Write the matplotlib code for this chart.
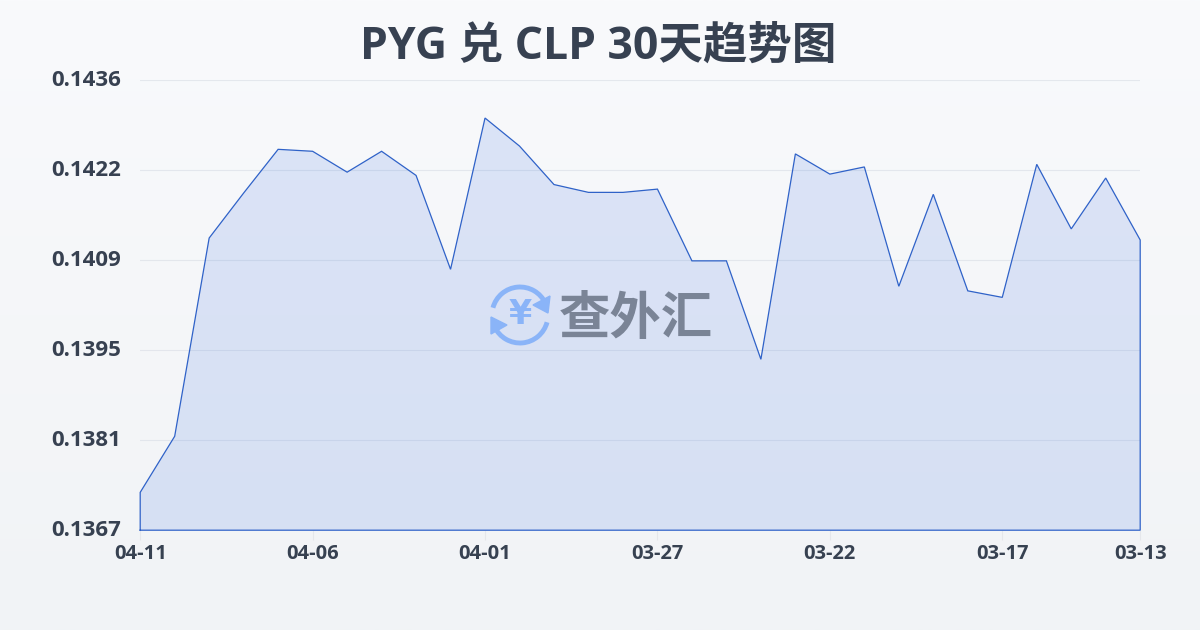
import matplotlib
matplotlib.use('Agg')
import matplotlib.pyplot as plt
import numpy as np
from matplotlib.patches import Arc, Polygon

plt.rcParams['font.family'] = ['Open Sans', 'Noto Sans CJK SC', 'DejaVu Sans']

title = 'PYG 兑 CLP 30天趋势图'
rates = [0.13728, 0.13814, 0.14118, 0.14187, 0.14254, 0.14251, 0.14219, 0.14251,
         0.14214, 0.14070, 0.14302, 0.14259, 0.14200, 0.14188, 0.14188, 0.14193,
         0.14083, 0.14083, 0.13932, 0.14247, 0.14216, 0.14227, 0.14044, 0.14185,
         0.14037, 0.14027, 0.14231, 0.14132, 0.14210, 0.14115]
x_positions = [0, 5, 10, 15, 20, 25, 29]
x_labels = ['04-11', '04-06', '04-01', '03-27', '03-22', '03-17', '03-13']
y_labels = ['0.1367', '0.1381', '0.1395', '0.1409', '0.1422', '0.1436']
y_min, y_max = 0.1367, 0.1436

W, H = 1200, 630
fig = plt.figure(figsize=(W / 100, H / 100), dpi=100)

# page background, pale vertical gradient
bg = fig.add_axes([0, 0, 1, 1], zorder=0)
bg.imshow(np.linspace(0, 1, 256).reshape(-1, 1), aspect='auto', extent=(0, W, H, 0),
          cmap=matplotlib.colors.LinearSegmentedColormap.from_list('bg', ['#f9fafc', '#f1f3f6']))
bg.axis('off')

ax = fig.add_axes([140.2 / W, 1 - 530.2 / H, 1000 / W, 450 / H], zorder=1)
ax.patch.set_alpha(0)
x = np.arange(len(rates))
ax.fill_between(x, y_min, rates, facecolor='#3a6fe2', alpha=0.15, linewidth=0, zorder=2)
ax.plot(np.r_[x[0], x, x[-1], x[0]], np.r_[y_min, rates, y_min, y_min],
        color='#2f62c8', lw=0.9, zorder=3, solid_joinstyle='miter', clip_on=False)
ax.set_xlim(0, 29)
ax.set_ylim(y_min, y_max)
for s in ax.spines.values():
    s.set_visible(False)
ax.set_yticks(np.linspace(y_min, y_max, 6))
ax.set_yticklabels(y_labels, fontsize=16, fontweight='bold', color='#374151', va='center')
ax.set_xticks(x_positions)
ax.set_xticklabels(x_labels, fontsize=14.5, fontweight='bold', color='#374151')
ax.tick_params(axis='y', length=0, pad=14)
ax.tick_params(axis='x', length=7, width=0.8, color='#e5e7eb', pad=3)
ax.grid(axis='y', color='#d5dae3', lw=0.8, alpha=0.55, zorder=1)
ax.set_axisbelow(True)

fig.text(0.4985, 1 - 47 / H, title, ha='center', va='center', fontsize=32,
         fontweight='bold', color='#374151', zorder=5)

# watermark in pixel coordinates
wm = fig.add_axes([0, 0, 1, 1], zorder=4)
wm.set_xlim(0, W)
wm.set_ylim(H, 0)
wm.axis('off')
blue = '#8ab4f8'
wm.add_patch(Arc((520, 315), 56, 56, theta1=195, theta2=335, color=blue, lw=3.5))
wm.add_patch(Arc((520, 315), 56, 56, theta1=15, theta2=155, color=blue, lw=3.5))
wm.add_patch(Polygon([(550, 296), (548, 313), (533, 305)], color=blue))
wm.add_patch(Polygon([(491, 334), (491, 317), (507, 325)], color=blue))
wm.text(520, 315, '¥', ha='center', va='center', fontsize=24, fontweight='bold',
        color=blue, family='DejaVu Sans')
wm.text(636, 321, '查外汇', ha='center', va='center', fontsize=37, fontweight='bold',
        color='#7a8496')

fig.savefig('out.png', dpi=100)
